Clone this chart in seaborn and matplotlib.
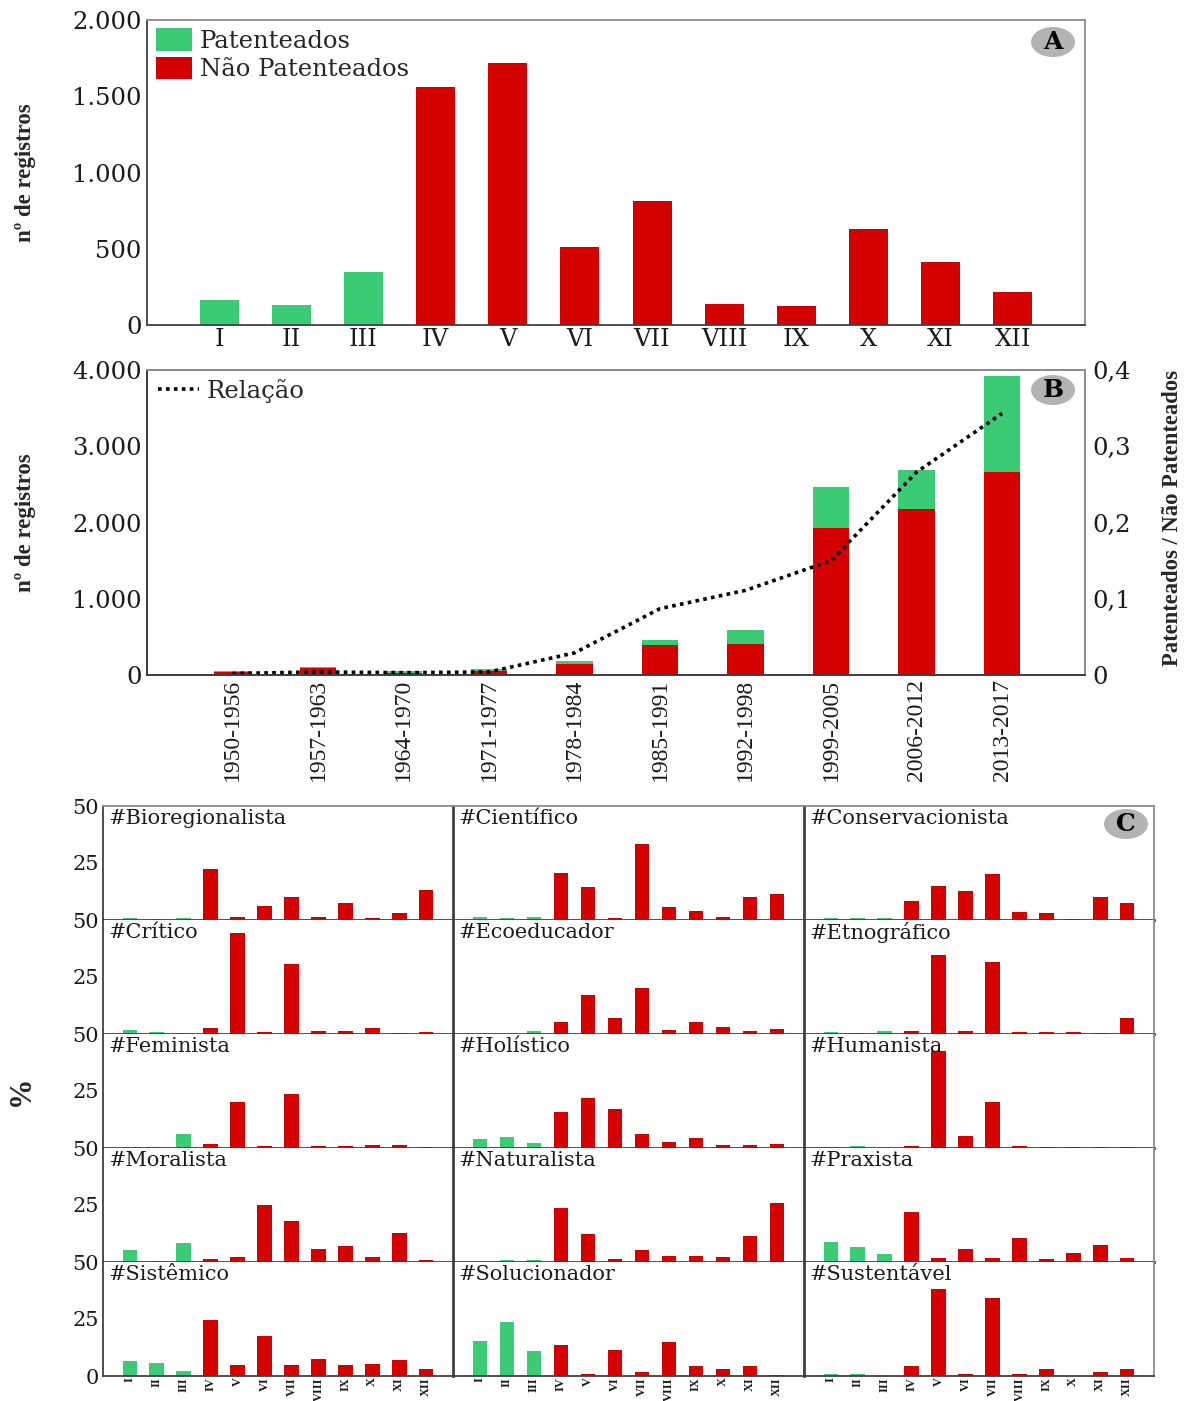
import numpy as np
import pandas as pd
import matplotlib
matplotlib.use('Agg')
import matplotlib.pyplot as plt
from matplotlib.patches import Ellipse, Patch
import seaborn as sns

sns.set_theme(style='white')
plt.rcParams['font.family'] = ['DejaVu Serif']

VERDE = '#3ACB74'
VERMELHO = '#D40000'
ESCURO = '#404040'
CINZA = '#8C8C8C'
LARGO = 'DejaVu Serif'
ESTREITO = 'Liberation Serif'
W, H = 1187, 1401

macro = ['I', 'II', 'III', 'IV', 'V', 'VI', 'VII', 'VIII', 'IX', 'X', 'XI', 'XII']
registros_a = [165, 130, 345, 1560, 1715, 510, 815, 135, 125, 630, 410, 215]

periodos = ['1950-1956', '1957-1963', '1964-1970', '1971-1977', '1978-1984',
            '1985-1991', '1992-1998', '1999-2005', '2006-2012', '2013-2017']
nao_patenteados_b = [35, 92, 30, 48, 140, 394, 412, 1927, 2181, 2660]
patenteados_b = [13, 17, 18, 26, 39, 70, 175, 539, 513, 1265]
relacao = [0.002, 0.004, 0.003, 0.004, 0.029, 0.087, 0.111, 0.15, 0.266, 0.343]

bioregionalista = [1.0, 0.6, 1.0, 22.2, 1.2, 6.2, 10.1, 1.5, 7.4, 1.0, 3.2, 13.2]
cientifico = [1.5, 1.0, 1.5, 20.6, 14.3, 0.9, 33.5, 5.9, 4.1, 1.2, 10.0, 11.3]
conservacionista = [0.7, 0.9, 0.9, 8.2, 15.1, 12.6, 20.3, 3.4, 2.9, 0.6, 10.0, 7.6]
critico = [1.6, 0.7, 0.6, 2.5, 44.3, 1.0, 30.6, 1.5, 1.2, 2.5, 0.6, 1.0]
ecoeducador = [0, 0, 1.2, 5.4, 16.9, 7.1, 20.0, 1.8, 5.4, 3.1, 1.3, 2.1]
etnografico = [0.7, 0.6, 1.2, 1.5, 34.7, 1.2, 31.6, 0.9, 0.7, 0.7, 0.6, 7.2]
feminista = [0.5, 0.6, 6.3, 1.9, 20.3, 0.9, 23.7, 0.9, 0.9, 1.3, 1.5, 0.5]
holistico = [4.0, 4.7, 2.2, 16.0, 21.8, 16.9, 6.2, 2.5, 4.6, 1.2, 1.2, 1.6]
humanista = [0.5, 0.9, 0, 1.0, 42.6, 5.1, 20.3, 0.9, 0.6, 0.6, 0.3, 0.6]
moralista = [5.4, 0.6, 8.5, 1.5, 2.1, 24.9, 17.8, 5.9, 6.8, 2.2, 12.6, 0.7]
naturalista = [0, 0.8, 1.0, 23.8, 12.4, 1.3, 5.4, 2.5, 2.5, 2.2, 11.5, 25.7]
praxista = [8.8, 6.5, 3.7, 21.9, 1.9, 5.9, 1.6, 10.7, 1.3, 3.8, 7.6, 1.6]
sistemico = [6.5, 5.6, 2.1, 24.4, 5.0, 17.6, 5.0, 7.4, 4.9, 5.4, 6.8, 3.2]
solucionador = [15.4, 23.7, 10.9, 13.8, 0.7, 11.3, 1.8, 14.9, 4.4, 3.2, 4.4, 0.6]
sustentavel = [0.9, 1.0, 0, 4.3, 38.2, 1.0, 34.1, 1.0, 3.1, 0, 1.9, 2.9]

paineis_c = [('#Bioregionalista', bioregionalista), ('#Científico', cientifico),
             ('#Conservacionista', conservacionista), ('#Crítico', critico),
             ('#Ecoeducador', ecoeducador), ('#Etnográfico', etnografico),
             ('#Feminista', feminista), ('#Holístico', holistico),
             ('#Humanista', humanista), ('#Moralista', moralista),
             ('#Naturalista', naturalista), ('#Praxista', praxista),
             ('#Sistêmico', sistemico), ('#Solucionador', solucionador),
             ('#Sustentável', sustentavel)]


def eixo(fig, x0, y0, x1, y1):
    # caixa em pixels da imagem, origem no canto superior esquerdo
    return fig.add_axes([x0 / W, 1 - y1 / H, (x1 - x0) / W, (y1 - y0) / H])


def barras_macro(ax, valores, largura):
    tipo = ['Patenteados' if m in ('I', 'II', 'III') else 'Não Patenteados'
            for m in macro]
    df = pd.DataFrame({'macro': macro, 'valor': valores, 'tipo': tipo})
    sns.barplot(data=df, x='macro', y='valor', hue='tipo', dodge=False,
                palette={'Patenteados': VERDE, 'Não Patenteados': VERMELHO},
                saturation=1, linewidth=0, width=largura, legend=False, ax=ax)
    ax.set_xlim(-1, 12)
    ax.set_xlabel('')
    ax.set_ylabel('')


def selo(ax, letra, cx, cy, larg, alt):
    # cx, cy em fração do eixo
    ax.add_patch(Ellipse((cx, cy), larg, alt, transform=ax.transAxes,
                         facecolor='#B3B3B3', edgecolor='none', zorder=5))
    ax.text(cx, cy, letra, transform=ax.transAxes, ha='center', va='center',
            family=LARGO, weight='bold', fontsize=18, color='black', zorder=6)


def molduras(ax, cor=CINZA):
    for lado in ['top', 'right']:
        ax.spines[lado].set_color(cor)
        ax.spines[lado].set_linewidth(1.3)
    for lado in ['left', 'bottom']:
        ax.spines[lado].set_color(ESCURO)
        ax.spines[lado].set_linewidth(1.3)


fig = plt.figure(figsize=(W / 100, H / 100), dpi=100, facecolor='white')

# painel A
ax_a = eixo(fig, 147, 20, 1085, 325)
barras_macro(ax_a, registros_a, 0.54)
ax_a.set_ylim(0, 2000)
ax_a.set_yticks([0, 500, 1000, 1500, 2000])
ax_a.set_yticklabels(['0', '500', '1.000', '1.500', '2.000'])
ax_a.tick_params(axis='both', length=0, labelsize=17.5, colors='#1A1A1A')
ax_a.tick_params(axis='y', pad=4)
ax_a.tick_params(axis='x', pad=2)
molduras(ax_a)
fig.text(26 / W, 1 - 173 / H, 'nº de registros', rotation=90, ha='center',
         va='center', family=ESTREITO, weight='bold', fontsize=16.5)
ax_a.legend(handles=[Patch(color=VERDE, label='Patenteados', linewidth=0),
                     Patch(color=VERMELHO, label='Não Patenteados', linewidth=0)],
            loc='upper left', bbox_to_anchor=(9 / 938, 1 - 8 / 305),
            frameon=False, fontsize=17.5, handlelength=1.5, handleheight=1.05,
            labelspacing=0.17, handletextpad=0.3, borderpad=0, borderaxespad=0)
selo(ax_a, 'A', 906 / 938, 1 - 22 / 305, 44 / 938, 30 / 305)

# painel B
ax_b = eixo(fig, 147, 370, 1085, 675)
df_b = pd.DataFrame({'periodo': periodos,
                     'total': np.add(nao_patenteados_b, patenteados_b),
                     'nao': nao_patenteados_b})
sns.barplot(data=df_b, x='periodo', y='total', color=VERDE, saturation=1,
            linewidth=0, width=0.43, ax=ax_b)
sns.barplot(data=df_b, x='periodo', y='nao', color=VERMELHO, saturation=1,
            linewidth=0, width=0.43, ax=ax_b)
ax_b.set_xlim(-1, 9.97)
ax_b.set_ylim(0, 4000)
ax_b.set_xlabel('')
ax_b.set_ylabel('')
ax_b.set_yticks([0, 1000, 2000, 3000, 4000])
ax_b.set_yticklabels(['0', '1.000', '2.000', '3.000', '4.000'])
ax_b.tick_params(axis='both', length=0, colors='#1A1A1A')
ax_b.tick_params(axis='y', labelsize=17.5, pad=4)
ax_b.tick_params(axis='x', pad=3)
for rotulo in ax_b.get_xticklabels():
    rotulo.set_rotation(90)
    rotulo.set_family(ESTREITO)
    rotulo.set_fontsize(17)
molduras(ax_b)
fig.text(26 / W, 1 - 523 / H, 'nº de registros', rotation=90, ha='center',
         va='center', family=ESTREITO, weight='bold', fontsize=16.5)

ax_r = ax_b.twinx()
df_r = pd.DataFrame({'pos': np.arange(len(periodos)), 'relacao': relacao})
sns.lineplot(data=df_r, x='pos', y='relacao', color='black', linewidth=2.6,
             linestyle=(0, (1, 1.2)), label='Relação', ax=ax_r)
ax_r.set_ylim(0, 0.4)
ax_r.set_yticks([0, 0.1, 0.2, 0.3, 0.4])
ax_r.set_yticklabels(['0', '0,1', '0,2', '0,3', '0,4'])
ax_r.tick_params(axis='y', length=0, labelsize=17.5, pad=5, colors='#1A1A1A')
ax_r.set_ylabel('')
molduras(ax_r)
ax_r.legend(loc='upper left', bbox_to_anchor=(11 / 938, 1 - 9 / 305),
            frameon=False, fontsize=17.5, handlelength=1.7, handletextpad=0.3,
            borderpad=0, borderaxespad=0)
selo(ax_r, 'B', 906 / 938, 1 - 20 / 305, 44 / 938, 30 / 305)
fig.text(1172 / W, 1 - 518 / H, 'Patenteados / Não Patenteados', rotation=90,
         ha='center', va='center', family=ESTREITO, weight='bold', fontsize=16.3)

# painel C, cinco linhas e três colunas
colunas = [(103, 453), (453, 804), (804, 1154)]
linhas = [(806, 920), (920, 1034), (1034, 1148), (1148, 1262), (1262, 1376)]
for i, (nome, valores) in enumerate(paineis_c):
    lin, col = divmod(i, 3)
    x0, x1 = colunas[col]
    y0, y1 = linhas[lin]
    ax = eixo(fig, x0, y0, x1, y1)
    barras_macro(ax, valores, 0.55)
    ax.set_ylim(0, 50)
    ax.text(0.014, 0.89, nome, transform=ax.transAxes, ha='left', va='center',
            family=LARGO, fontsize=15, color='#1A1A1A')
    ax.tick_params(axis='both', length=0, colors='#1A1A1A')
    if col == 0:
        ticks = [25, 50] if lin < 4 else [0, 25, 50]
        ax.set_yticks(ticks)
        ax.set_yticklabels([str(t) for t in ticks])
        ax.tick_params(axis='y', labelsize=15, pad=3)
    else:
        ax.set_yticks([])
    if lin == 4:
        ax.set_xticks(range(len(macro)))
        ax.set_xticklabels(macro, rotation=90, family=ESTREITO, fontsize=8.8,
                           weight='bold')
        ax.tick_params(axis='x', pad=1)
    else:
        ax.set_xticks([])
    molduras(ax)
    ax.spines['left'].set_linewidth(2 if col > 0 else 1.3)
    ax.spines['bottom'].set_linewidth(2 if lin < 4 else 1.3)
    ax.spines['top'].set_visible(lin == 0)
    ax.spines['right'].set_visible(col == 2)
    if i == 2:
        selo(ax, 'C', (1126 - 804) / 350, 1 - 18 / 114, 44 / 350, 30 / 114)

fig.text(21 / W, 1 - 1091 / H, '%', rotation=90, ha='center', va='center',
         family=ESTREITO, weight='bold', fontsize=22)

fig.savefig('out.png', dpi=100)
